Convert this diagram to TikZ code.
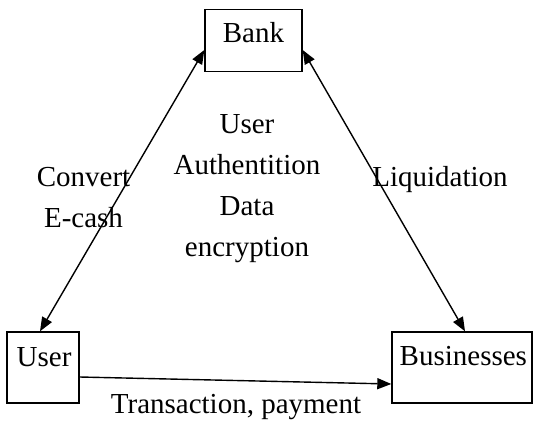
\documentclass[tikz,border=0pt]{standalone}
\usepackage{fontspec}
\setmainfont{Liberation Serif}
\usetikzlibrary{arrows.meta,calc}
\begin{document}
\begin{tikzpicture}[x=1pt,y=-1pt,
  box/.style={draw,line width=1.4pt,minimum width=#1,inner sep=0pt},
  lbl/.style={font=\fontsize{29}{41}\selectfont,inner sep=0pt},
  conn/.style={line width=1.4pt,arrows={-Triangle[length=14pt,width=11pt]}},
  dconn/.style={line width=1.4pt,arrows={Triangle[length=14pt,width=11pt]-Triangle[length=14pt,width=11pt]}}]
\useasboundingbox (0,0) rectangle (534,420);
% boxes
\node[box=97pt,minimum height=62pt] (bank) at (253.5,40.5) {};
\node[box=72pt,minimum height=71pt] (user) at (43,367.5) {};
\node[box=140pt,minimum height=71pt] (biz) at (462,367.5) {};
% box texts
\node[lbl,anchor=base] (banktxt) at (253.5,42) {Bank};
\node[lbl,anchor=base west] (usertxt) at (16.5,366) {User};
\node[lbl,anchor=base west] (biztxt) at (399.5,365) {Businesses};
% anchor points
\coordinate (bl) at ($(bank.south west)!0.35!(bank.north west)$);
\coordinate (br) at ($(bank.south east)!0.35!(bank.north east)$);
% connectors
\draw[dconn] (bl) -- ([xshift=-3pt]user.north);
\draw[dconn] (br) -- ([xshift=3pt]biz.north);
\draw[conn] ([yshift=-9.5pt]user.east) -- ([yshift=-16.5pt]biz.west);
% labels
\node[lbl,align=center] (convert) at (83.5,198) {Convert\\E-cash};
\node[lbl,anchor=base] (liq) at (440,186) {Liquidation};
\node[lbl,align=center] (mid) at (247,189) {User\\Authentition\\Data\\encryption};
\node[lbl,anchor=base] (trans) at (236,413) {Transaction, payment};
\end{tikzpicture}
\end{document}
